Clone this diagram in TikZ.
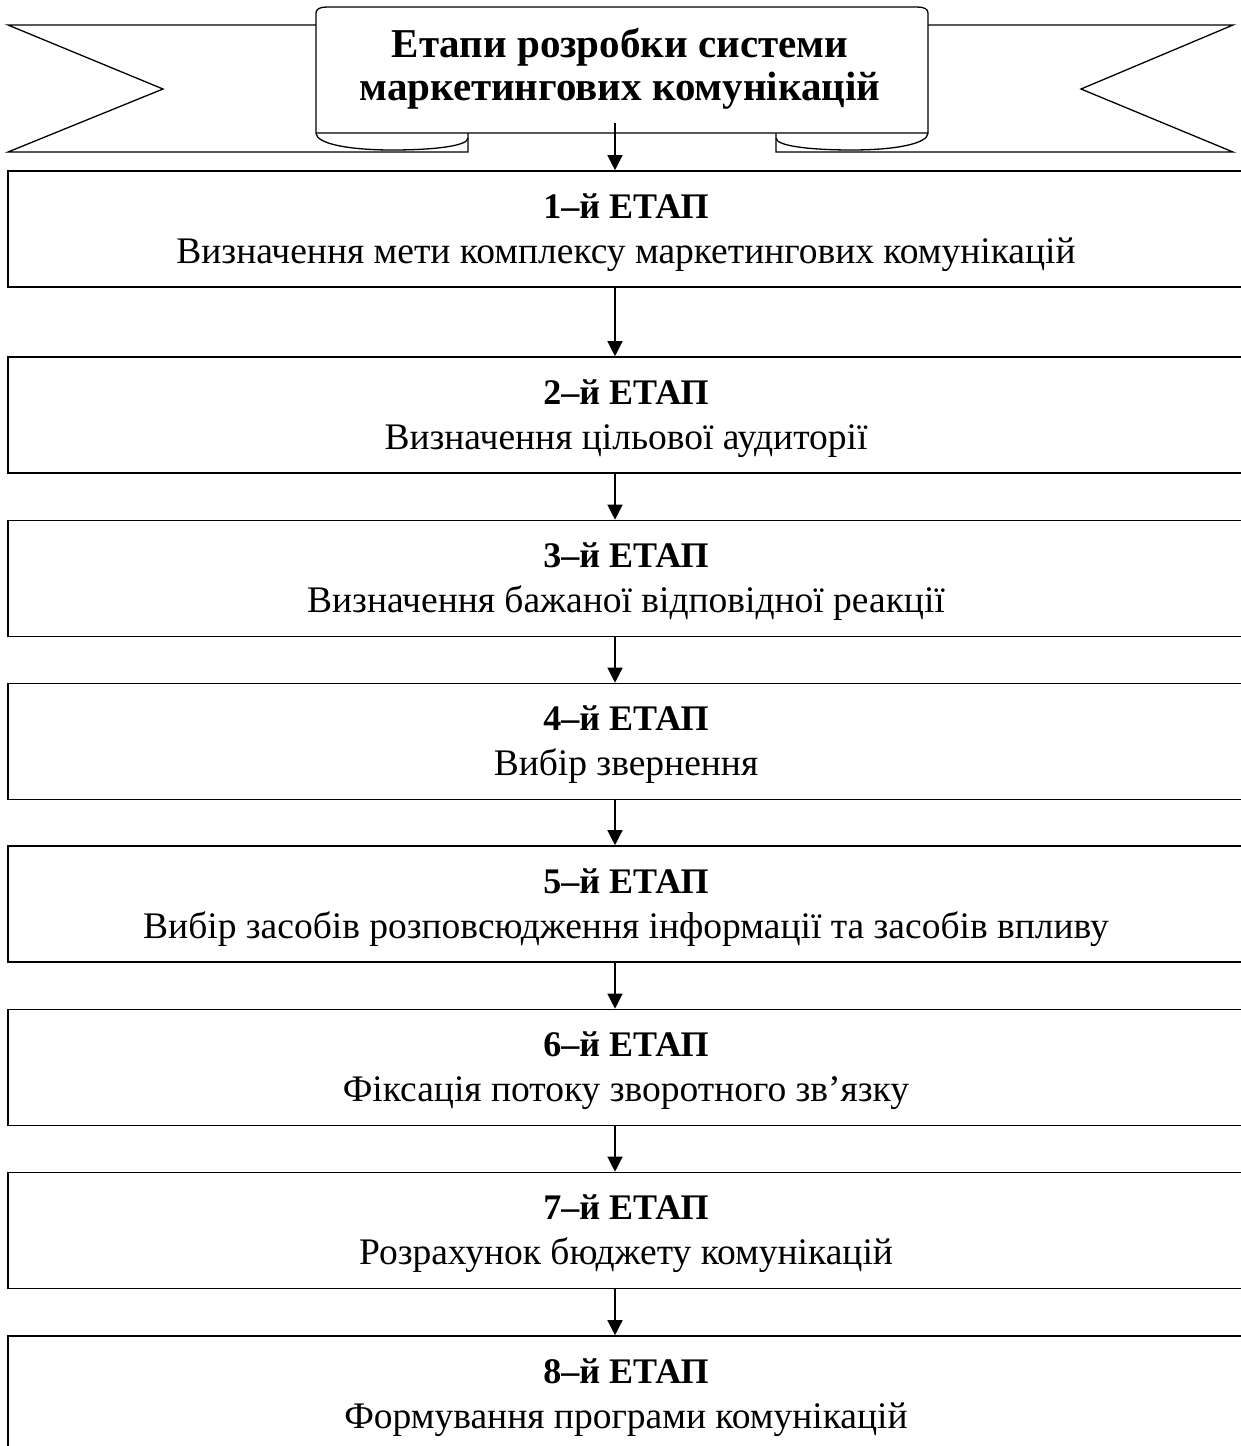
\documentclass[tikz,border=0pt]{standalone}
\usepackage{fontspec}
\setmainfont{Liberation Serif}
\usetikzlibrary{arrows.meta}
\newcommand\stg[2]{{\fontsize{36}{45}\selectfont\bfseries\rule{0pt}{32pt}#1}\\\rule[-9pt]{0pt}{9pt}#2}
\begin{document}
\begin{tikzpicture}[x=1pt,y=-1pt,
  line width=1.6pt,
  stagebox/.style={draw, minimum width=1236pt, minimum height=116pt, align=center, inner sep=0pt, font=\fontsize{37.5}{45}\selectfont},
  arr/.style={-{Triangle[length=15pt,width=15pt]}, line width=1.3pt},
  ribbon/.style={draw, fill=white, line width=1.3pt, line join=miter}
]
\useasboundingbox (0,0) rectangle (1241,1446);
% ribbon tails
\draw[ribbon] (316,25) -- (8,25) -- (163,89) -- (8,152) -- (468,152) -- (468,133);
\draw[ribbon] (928,25) -- (1233,25) -- (1081,89) -- (1233,152) -- (776,152) -- (776,133);
% rolls
\draw[ribbon] (316,133) .. controls (316,144) and (350,150) .. (392,150) .. controls (434,150) and (468,146) .. (468,138);
\draw[ribbon] (776,138) .. controls (776,146) and (810,150) .. (852,150) .. controls (894,150) and (928,144) .. (928,133);
% front of ribbon
\draw[ribbon] (316,133) -- (316,13) .. controls (316,9) and (320,7) .. (327,7) -- (917,7) .. controls (924,7) and (928,9) .. (928,13) -- (928,133) -- cycle;
\node[font=\fontsize{41}{43}\selectfont\bfseries, align=center, inner sep=0pt] (title) at (620,66) {\rule{0pt}{35pt}Етапи розробки системи\\\rule[-10pt]{0pt}{10pt}маркетингових комунікацій};
% stages
\node[stagebox] (b1) at (626,229) {\stg{1–й ЕТАП}{Визначення мети комплексу маркетингових комунікацій}};
\node[stagebox] (b2) at (626,415) {\stg{2–й ЕТАП}{Визначення цільової аудиторії}};
\node[stagebox] (b3) at (626,578.5) {\stg{3–й ЕТАП}{Визначення бажаної відповідної реакції}};
\node[stagebox] (b4) at (626,741.5) {\stg{4–й ЕТАП}{Вибір звернення}};
\node[stagebox] (b5) at (626,904) {\stg{5–й ЕТАП}{Вибір засобів розповсюдження інформації та засобів впливу}};
\node[stagebox] (b6) at (626,1067.5) {\stg{6–й ЕТАП}{Фіксація потоку зворотного зв’язку}};
\node[stagebox] (b7) at (626,1230.5) {\stg{7–й ЕТАП}{Розрахунок бюджету комунікацій}};
\node[stagebox] (b8) at (626,1394) {\stg{8–й ЕТАП}{Формування програми комунікацій}};
% connectors
\coordinate (t0) at (615,123);
\draw[arr] (t0) -- (b1.north -| t0);
\foreach \a/\b in {b1/b2,b2/b3,b3/b4,b4/b5,b5/b6,b6/b7,b7/b8}
  \draw[arr] (\a.south -| t0) -- (\b.north -| t0);
\end{tikzpicture}
\end{document}
